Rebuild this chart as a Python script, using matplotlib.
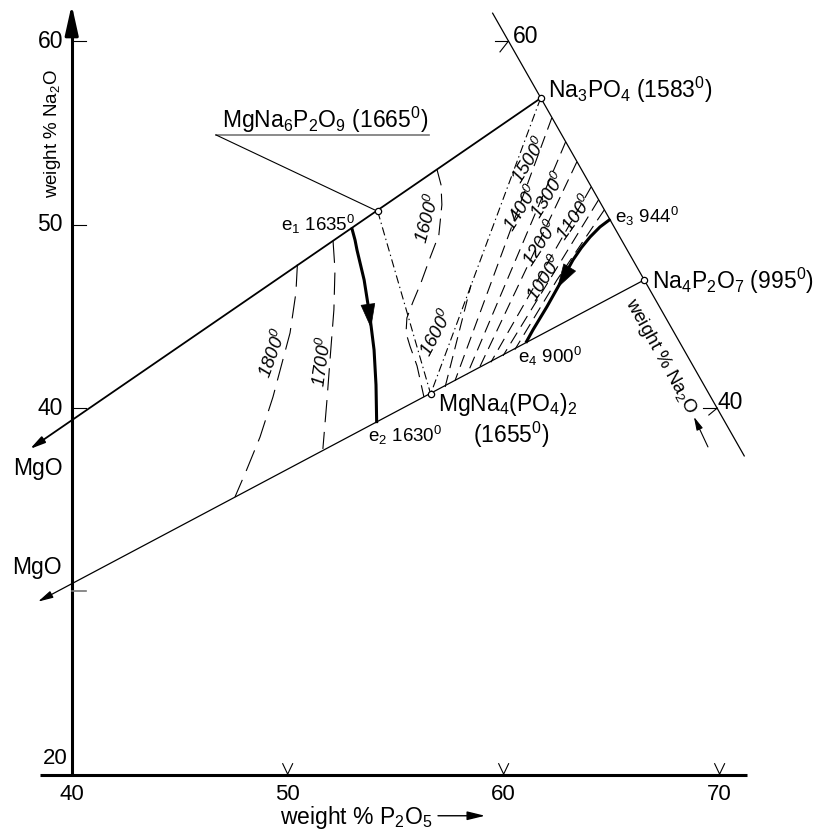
import matplotlib
matplotlib.use('Agg')
import matplotlib.pyplot as plt

plt.rcParams['font.family'] = ['Liberation Sans', 'DejaVu Sans']
plt.rcParams['mathtext.fontset'] = 'custom'
plt.rcParams['mathtext.rm'] = 'Liberation Sans'
plt.rcParams['mathtext.it'] = 'Liberation Sans:italic'
plt.rcParams['mathtext.default'] = 'regular'
plt.rcParams['lines.scale_dashes'] = False

# ---------------- data (wt% P2O5, wt% Na2O) ----------------
compound_names = ['Na3PO4', 'MgNa6P2O9', 'Na4P2O7', 'MgNa4(PO4)2']
compound_x = [61.71, 54.17, 66.51, 56.62]
compound_y = [56.90, 50.73, 46.99, 40.77]

# MgO directions (arrow tips of the two joins)
mgo_upper_tip = (38.07, 37.77)
mgo_lower_tip = (38.44, 29.44)

# Na3PO4 - Na4P2O7 side (weight % Na2O scale)
side_x = [59.49, 71.14]
side_y = [61.54, 37.39]

# boundary curves
e1e2_x = [52.98, 53.12, 53.21, 53.54, 53.81, 54.00, 54.09, 54.12]
e1e2_y = [49.77, 49.16, 48.62, 46.99, 44.97, 43.17, 41.26, 39.26]
e3e4_x = [64.89, 64.46, 64.00, 63.60, 63.21, 62.70, 62.00, 61.36, 61.06]
e3e4_y = [50.26, 49.88, 49.33, 48.75, 48.08, 46.99, 45.52, 44.27, 43.63]

# isotherms
iso1800_x = [50.45, 50.38, 50.11, 49.32, 48.72, 48.10, 47.56]
iso1800_y = [47.83, 46.28, 44.10, 40.61, 38.42, 36.63, 35.15]
iso1700_x = [52.10, 52.19, 52.14, 51.96, 51.82, 51.63]
iso1700_y = [49.13, 47.54, 45.36, 42.63, 40.45, 37.77]
iso1600a_x = [56.91, 57.10, 57.14, 57.00, 56.59, 56.17, 55.80, 55.52, 55.48, 55.66, 55.99, 56.31]
iso1600a_y = [53.03, 52.18, 51.09, 49.45, 48.19, 46.83, 45.79, 44.92, 44.10, 43.39, 42.30, 40.60]
iso1600b_x = [57.29, 58.49]
iso1600b_y = [41.15, 46.72]
iso1500_x = [62.23, 57.75]
iso1500_y = [55.83, 41.50]
iso1400_x = [62.87, 58.30]
iso1400_y = [54.52, 41.81]
iso1300_x = [63.39, 58.86]
iso1300_y = [53.43, 42.16]
iso1200_x = [64.05, 59.41]
iso1200_y = [52.06, 42.50]
iso1100_x = [64.39, 59.97]
iso1100_y = [51.35, 42.85]
iso1000_x = [64.66, 62.47, 60.52]
iso1000_y = [50.81, 46.99, 43.19]

x_ticks = [50, 60, 70]
x_ticklabels = ['50', '60', '70']
y_ticks = [60, 50, 40]
y_ticklabels = ['60', '50', '40']

# ---------------- figure ----------------
fig = plt.figure(figsize=(8.14, 8.35), dpi=100)
ax = fig.add_axes([0, 0, 1, 1])
ax.set_xlim(36.68, 74.37)
ax.set_ylim(16.71, 62.26)
ax.axis('off')
K = 'black'

# axes
ax.plot([38.51, 71.26], [20, 20], color=K, lw=2.2, solid_capstyle='butt')
ax.plot([40, 40], [20, 60.8], color=K, lw=2.2, solid_capstyle='butt')
ax.annotate('', xy=(40, 62.0), xytext=(40, 60.4),
            arrowprops=dict(arrowstyle='-|>,head_length=0.9,head_width=0.2',
                            mutation_scale=20, color=K, lw=2.2,
                            shrinkA=0, shrinkB=0))
for xt, lab in zip(x_ticks, x_ticklabels):
    ax.plot([xt - 0.23, xt, xt + 0.23], [20.6, 20.03, 20.6], color=K, lw=0.8)
    ax.text(xt, 18.9, lab, ha='center', va='center', fontsize=16)
ax.text(40.0, 18.9, '40', ha='center', va='center', fontsize=16)
ax.text(39.25, 20.9, '20', ha='center', va='center', fontsize=16)
for yt, lab in zip(y_ticks, y_ticklabels):
    ax.plot([40, 40.65], [yt, yt], color=K, lw=0.8)
    ax.text(39.6, yt, lab, ha='right', va='center', fontsize=16.5)
ax.plot([40, 40.65], [30, 30], color='#777777', lw=1.2)

ax.text(39.13, 55.0, 'weight % Na$_2$O', rotation=90, ha='center',
        va='center', fontsize=13.5)
ax.text(53.16, 17.64, 'weight % P$_2$O$_5$', ha='center', va='center',
        fontsize=16.5)
ax.annotate('', xy=(59.14, 17.76), xytext=(56.96, 17.76),
            arrowprops=dict(arrowstyle='-|>,head_length=0.9,head_width=0.22',
                            mutation_scale=12, color=K, lw=1.0,
                            shrinkA=0, shrinkB=0))

# joins toward MgO
ax.annotate('', xy=mgo_upper_tip, xytext=(compound_x[0], compound_y[0]),
            arrowprops=dict(arrowstyle='-|>,head_length=0.9,head_width=0.22',
                            mutation_scale=10, color=K, lw=1.3,
                            shrinkA=0, shrinkB=0))
ax.annotate('', xy=mgo_lower_tip, xytext=(compound_x[2], compound_y[2]),
            arrowprops=dict(arrowstyle='-|>,head_length=0.9,head_width=0.22',
                            mutation_scale=10, color=K, lw=0.9,
                            shrinkA=0, shrinkB=0))
ax.text(37.28, 36.73, 'MgO', ha='left', va='center', fontsize=16.5)
ax.text(37.22, 31.28, 'MgO', ha='left', va='center', fontsize=16.5)

# side Na3PO4 - Na4P2O7
ax.plot(side_x, side_y, color=K, lw=0.9)
ax.plot([59.60, 60.21], [60, 60], color=K, lw=0.8)
ax.plot([59.83, 60.21], [59.43, 60], color=K, lw=0.8)
ax.plot([69.21, 69.89], [40, 40], color=K, lw=0.8)
ax.plot([69.50, 69.89], [39.62, 40], color=K, lw=0.8)
ax.text(60.43, 60.25, '60', ha='left', va='center', fontsize=16.5)
ax.text(69.92, 40.33, '40', ha='left', va='center', fontsize=16.5)
ax.text(67.24, 42.84, 'weight % Na$_2$O', rotation=-61, ha='center',
        va='center', fontsize=13.5, rotation_mode='anchor')
ax.annotate('', xy=(68.81, 39.52), xytext=(69.46, 37.88),
            arrowprops=dict(arrowstyle='-|>,head_length=0.8,head_width=0.2',
                            mutation_scale=10, color=K, lw=0.8,
                            shrinkA=0, shrinkB=0))

# dash-dot joins
dd = (0, (6, 2.5, 1, 2.5))
ax.plot([compound_x[1], compound_x[3]], [compound_y[1], compound_y[3]],
        color=K, lw=0.8, linestyle=dd)
ax.plot([compound_x[0], compound_x[3]], [compound_y[0], compound_y[3]],
        color=K, lw=0.8, linestyle=dd)

# boundary curves
ax.plot(e1e2_x, e1e2_y, color=K, lw=2.2, solid_joinstyle='round')
ax.plot(e3e4_x, e3e4_y, color=K, lw=2.2, solid_joinstyle='round')
ax.annotate('', xy=(53.86, 44.35), xytext=(53.72, 45.61),
            arrowprops=dict(arrowstyle='-|>,head_length=1.5,head_width=0.45',
                            mutation_scale=11, color=K, lw=0.5,
                            shrinkA=0, shrinkB=0))
ax.annotate('', xy=(62.48, 46.54), xytext=(62.94, 47.44),
            arrowprops=dict(arrowstyle='-|>,head_length=1.5,head_width=0.45',
                            mutation_scale=11, color=K, lw=0.5,
                            shrinkA=0, shrinkB=0))

# isotherms
long_dash = (0, (16, 7))
short_dash = (0, (9, 5))
ax.plot(iso1800_x, iso1800_y, color=K, lw=0.8, linestyle=long_dash)
ax.plot(iso1700_x, iso1700_y, color=K, lw=0.8, linestyle=long_dash)
ax.plot(iso1600a_x, iso1600a_y, color=K, lw=0.8, linestyle=(0, (12, 6)))
ax.plot(iso1600b_x, iso1600b_y, color=K, lw=0.8, linestyle=short_dash)
for xs, ys in [(iso1500_x, iso1500_y), (iso1400_x, iso1400_y),
               (iso1300_x, iso1300_y), (iso1200_x, iso1200_y),
               (iso1100_x, iso1100_y), (iso1000_x, iso1000_y)]:
    ax.plot(xs, ys, color=K, lw=0.8, linestyle=short_dash)

iso_labels = [
    ('1800$^0$', 49.32, 43.01, 70),
    ('1700$^0$', 51.63, 42.51, 82),
    ('1600$^0$', 56.50, 50.37, 75),
    ('1600$^0$', 56.91, 44.10, 62),
    ('1500$^0$', 61.22, 53.54, 58),
    ('1400$^0$', 60.85, 50.92, 58),
    ('1300$^0$', 62.10, 51.63, 58),
    ('1200$^0$', 61.73, 49.01, 57),
    ('1100$^0$', 63.30, 50.37, 55),
    ('1000$^0$', 61.91, 47.10, 57),
]
for t, x, y, r in iso_labels:
    ax.text(x, y, t, rotation=r, ha='center', va='center', fontsize=13.5,
            style='italic')

# compound markers and labels
ax.plot(compound_x, compound_y, 'o', ms=4.5, mfc='white', mec=K, mew=0.9,
        zorder=5)
ax.text(62.05, 57.35, 'Na$_3$PO$_4$ (1583$^0$)', ha='left', va='center',
        fontsize=16.5)
ax.text(66.87, 46.93, 'Na$_4$P$_2$O$_7$ (995$^0$)', ha='left', va='center',
        fontsize=16.5)
ax.text(56.96, 40.17, 'MgNa$_4$(PO$_4$)$_2$', ha='left', va='center',
        fontsize=16.5)
ax.text(58.58, 38.53, '(1655$^0$)', ha='left', va='center', fontsize=16.5)
ax.text(46.96, 55.72, 'MgNa$_6$P$_2$O$_9$ (1665$^0$)', ha='left',
        va='center', fontsize=16.5)
ax.plot([46.68, 56.55], [54.90, 54.90], color='#777777', lw=1.2)
ax.plot([46.68, compound_x[1]], [54.90, compound_y[1]], color=K, lw=0.8)

# eutectic labels
ax.text(49.69, 50.04, 'e$_1$ 1635$^0$', ha='left', va='center', fontsize=13.5)
ax.text(53.72, 38.53, 'e$_2$ 1630$^0$', ha='left', va='center', fontsize=13.5)
ax.text(65.15, 50.44, 'e$_3$ 944$^0$', ha='left', va='center', fontsize=13.5)
ax.text(60.66, 42.84, 'e$_4$ 900$^0$', ha='left', va='center', fontsize=13.5)

fig.savefig('out.png', dpi=100)
